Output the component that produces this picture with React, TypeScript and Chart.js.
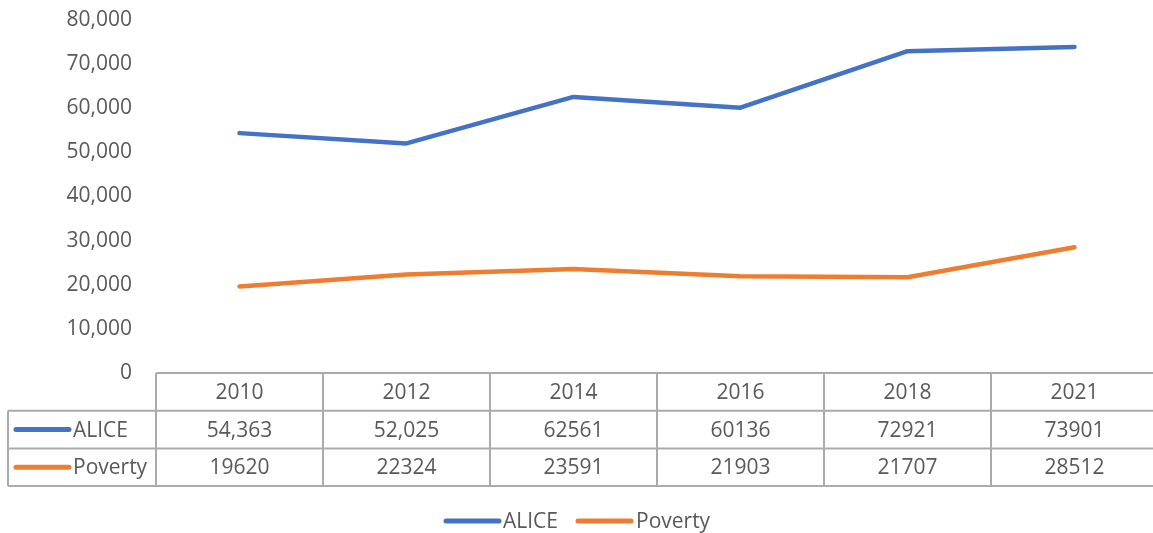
import React, { useEffect, useRef } from "react";
import { Chart, registerables } from "chart.js";

Chart.register(...registerables);

const years = ["2010", "2012", "2014", "2016", "2018", "2021"];
const aliceValues = [54363, 52025, 62561, 60136, 72921, 73901];
const povertyValues = [19620, 22324, 23591, 21903, 21707, 28512];
const aliceTable = ["54,363", "52,025", "62561", "60136", "72921", "73901"];
const povertyTable = ["19620", "22324", "23591", "21903", "21707", "28512"];
const yTicks = [0, 10000, 20000, 30000, 40000, 50000, 60000, 70000, 80000];

const BLUE = "#4472C4";
const ORANGE = "#ED7D31";
const TEXT = "#595959";
const BORDER = "#ABABAB";
const FONT = "'Open Sans', 'Noto Sans', sans-serif";
const FONT_SIZE = 21;

const tablePlugin = {
  id: "dataTable",
  afterDraw(chart: any) {
    const ctx = chart.ctx as CanvasRenderingContext2D;
    const area = chart.chartArea;
    const x = chart.scales.x;
    const n = years.length;
    const colW = (area.right - area.left) / n;
    const top = area.bottom;
    const rowH = 37.7;
    const r1 = top + rowH;
    const r2 = r1 + rowH;
    const r3 = r2 + rowH;
    const tableLeft = 8;
    const rightEdge = area.right;

    ctx.save();
    ctx.strokeStyle = BORDER;
    ctx.lineWidth = 2;
    ctx.beginPath();
    ctx.moveTo(area.left, top);
    ctx.lineTo(rightEdge, top);
    ctx.moveTo(tableLeft, r1);
    ctx.lineTo(rightEdge, r1);
    ctx.moveTo(tableLeft, r2);
    ctx.lineTo(rightEdge, r2);
    ctx.moveTo(tableLeft, r3);
    ctx.lineTo(rightEdge, r3);
    for (let i = 0; i <= n; i++) {
      const bx = area.left + i * colW;
      ctx.moveTo(bx, top);
      ctx.lineTo(bx, r3);
    }
    ctx.moveTo(tableLeft, r1);
    ctx.lineTo(tableLeft, r3);
    ctx.stroke();

    ctx.fillStyle = TEXT;
    ctx.font = `${FONT_SIZE}px ${FONT}`;
    ctx.textAlign = "center";
    ctx.textBaseline = "middle";
    for (let i = 0; i < n; i++) {
      const cx = x.getPixelForValue(i);
      ctx.fillText(years[i], cx, (top + r1) / 2 + 1);
      ctx.fillText(aliceTable[i], cx, (r1 + r2) / 2 + 1);
      ctx.fillText(povertyTable[i], cx, (r2 + r3) / 2 + 1);
    }

    const drawKey = (x0: number, x1: number, y: number, color: string) => {
      ctx.strokeStyle = color;
      ctx.lineWidth = 5;
      ctx.lineCap = "round";
      ctx.beginPath();
      ctx.moveTo(x0, y);
      ctx.lineTo(x1, y);
      ctx.stroke();
    };
    const y1 = (r1 + r2) / 2;
    const y2 = (r2 + r3) / 2;
    drawKey(16, 69, y1, BLUE);
    drawKey(16, 69, y2, ORANGE);
    ctx.textAlign = "left";
    ctx.fillStyle = TEXT;
    ctx.fillText("ALICE", 73, y1 + 1);
    ctx.fillText("Poverty", 73, y2 + 1);

    const ly = 521;
    drawKey(446, 499, ly, BLUE);
    ctx.fillText("ALICE", 503, ly + 1);
    drawKey(578, 631, ly, ORANGE);
    ctx.fillText("Poverty", 636, ly + 1);
    ctx.restore();
  },
};

export default function App() {
  const ref = useRef<HTMLCanvasElement | null>(null);
  useEffect(() => {
    if (!ref.current) return;
    const chart = new Chart(ref.current, {
      type: "line",
      data: {
        labels: years,
        datasets: [
          {
            label: "ALICE",
            data: aliceValues,
            borderColor: BLUE,
            backgroundColor: BLUE,
            borderWidth: 4.5,
            pointRadius: 0,
            tension: 0,
            borderCapStyle: "round",
            borderJoinStyle: "round",
          },
          {
            label: "Poverty",
            data: povertyValues,
            borderColor: ORANGE,
            backgroundColor: ORANGE,
            borderWidth: 4.5,
            pointRadius: 0,
            tension: 0,
            borderCapStyle: "round",
            borderJoinStyle: "round",
          },
        ],
      },
      options: {
        responsive: false,
        animation: false,
        devicePixelRatio: 1,
        layout: { padding: { top: 20, bottom: 160, right: 7, left: 0 } },
        plugins: { legend: { display: false }, tooltip: { enabled: false } },
        scales: {
          x: {
            type: "category",
            offset: true,
            display: false,
          },
          y: {
            min: 0,
            max: 80000,
            afterFit(scale: any) {
              scale.width = 156;
              scale.paddingTop = 0;
              scale.paddingBottom = 0;
            },
            afterBuildTicks(scale: any) {
              scale.ticks = yTicks.map((v) => ({ value: v }));
            },
            grid: { display: false, drawTicks: false },
            border: { display: false },
            ticks: {
              padding: 24,
              color: TEXT,
              font: { family: FONT, size: FONT_SIZE },
              callback: (v: any) => Number(v).toLocaleString("en-US"),
            },
          },
        },
      },
      plugins: [tablePlugin],
    });
    return () => chart.destroy();
  }, []);

  return (
    <div
      style={{
        position: "absolute",
        left: 0,
        top: 0,
        width: 1153,
        height: 533,
        overflow: "hidden",
        background: "#fff",
      }}
    >
      <canvas ref={ref} width={1165} height={533} style={{ display: "block" }} />
    </div>
  );
}
